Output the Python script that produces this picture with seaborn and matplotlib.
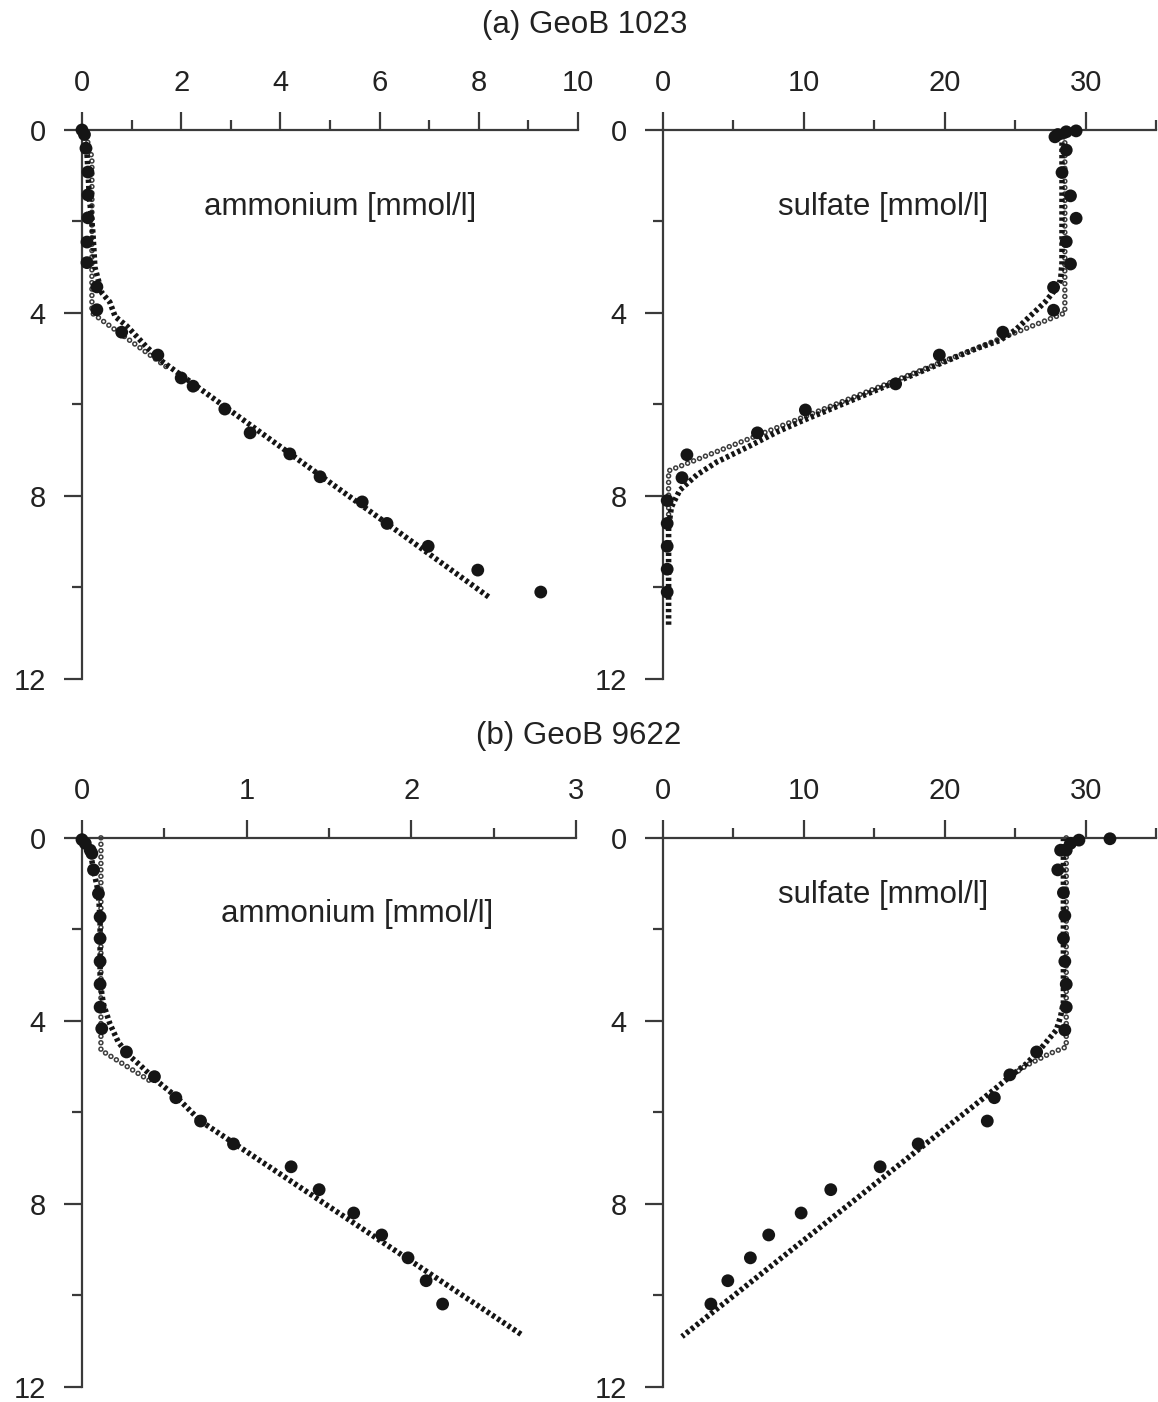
import numpy as np
import matplotlib
matplotlib.use("Agg")
import matplotlib.pyplot as plt
from matplotlib.ticker import MultipleLocator
import seaborn as sns

# ---------------------------------------------------------------
# data (depth in m, concentration in mmol/l)
# ---------------------------------------------------------------
# (a) GeoB 1023 - ammonium
a_nh4_meas_c = [0.0, 0.05, 0.08, 0.12, 0.12, 0.12, 0.1, 0.1, 0.3, 0.3, 0.8, 1.53, 2.0, 2.24,
                2.88, 3.39, 4.19, 4.8, 5.65, 6.15, 6.98, 7.98, 9.25]
a_nh4_meas_d = [0.0, 0.1, 0.4, 0.92, 1.42, 1.92, 2.45, 2.9, 3.43, 3.93, 4.42, 4.92, 5.42, 5.6,
                6.1, 6.62, 7.08, 7.58, 8.13, 8.6, 9.1, 9.62, 10.1]
a_nh4_mod_c = [0.02, 0.1, 0.15, 0.2, 0.22, 0.26, 0.4, 0.56, 0.67, 0.9, 1.3, 1.63, 8.23]
a_nh4_mod_d = [0.0, 0.5, 1.5, 2.0, 2.25, 3.0, 3.56, 3.76, 4.08, 4.28, 4.74, 5.07, 10.23]
a_nh4_step_c = [0.05, 0.2, 0.2, 1.73]
a_nh4_step_d = [0.0, 0.6, 4.0, 5.2]

# (a) GeoB 1023 - sulfate
a_so4_meas_c = [28.0, 28.6, 29.3, 27.8, 28.6, 28.3, 28.9, 29.3, 28.6, 28.9, 27.7, 27.7, 24.1,
                19.6, 16.5, 10.1, 6.7, 1.7, 1.35, 0.3, 0.3, 0.3, 0.3, 0.3]
a_so4_meas_d = [0.1, 0.04, 0.02, 0.15, 0.44, 0.93, 1.44, 1.93, 2.44, 2.93, 3.44, 3.94, 4.42,
                4.92, 5.55, 6.12, 6.62, 7.1, 7.6, 8.1, 8.6, 9.1, 9.6, 10.1]
a_so4_mod_c = [28.3, 28.3, 28.2, 27.8, 27.1, 26.0, 25.0, 23.9, 22.3, 9.7, 8.1, 6.0, 3.8, 2.4,
               1.2, 0.6, 0.4, 0.4]
a_so4_mod_d = [0.0, 2.9, 3.28, 3.5, 3.76, 4.08, 4.37, 4.6, 4.77, 6.38, 6.6, 6.93, 7.26, 7.54,
               7.87, 8.24, 8.68, 10.86]
a_so4_step_c = [28.5, 28.5, 0.4, 0.4]
a_so4_step_d = [0.0, 4.0, 7.45, 8.6]

# (b) GeoB 9622 - ammonium
b_nh4_meas_c = [0.0, 0.02, 0.05, 0.06, 0.07, 0.1, 0.11, 0.11, 0.11, 0.11, 0.11, 0.12, 0.27,
                0.44, 0.57, 0.72, 0.92, 1.27, 1.44, 1.65, 1.82, 1.98, 2.09, 2.19]
b_nh4_meas_d = [0.04, 0.12, 0.27, 0.34, 0.7, 1.22, 1.73, 2.2, 2.7, 3.2, 3.7, 4.17, 4.68,
                5.22, 5.68, 6.19, 6.69, 7.19, 7.69, 8.2, 8.68, 9.18, 9.68, 10.19]
b_nh4_mod_c = [0.0, 0.05, 0.07, 0.1, 0.11, 0.11, 0.12, 0.13, 0.17, 0.22, 0.28, 0.35, 0.45,
               0.57, 0.72, 2.67]
b_nh4_mod_d = [0.0, 0.3, 0.7, 1.2, 1.8, 3.0, 3.4, 3.63, 4.07, 4.46, 4.74, 4.96, 5.3,
               5.65, 6.19, 10.86]
b_nh4_step_c = [0.115, 0.115, 0.43]
b_nh4_step_d = [0.0, 4.64, 5.35]

# (b) GeoB 9622 - sulfate
b_so4_meas_c = [31.7, 29.5, 28.9, 28.6, 28.2, 28.0, 28.4, 28.5, 28.4, 28.5, 28.6, 28.6, 28.5,
                26.5, 24.6, 23.5, 23.0, 18.1, 15.4, 11.9, 9.8, 7.5, 6.2, 4.6, 3.4]
b_so4_meas_d = [0.02, 0.05, 0.12, 0.27, 0.27, 0.7, 1.2, 1.7, 2.2, 2.7, 3.2, 3.7, 4.2,
                4.68, 5.18, 5.68, 6.19, 6.69, 7.19, 7.69, 8.2, 8.68, 9.18, 9.68, 10.19]
b_so4_mod_c = [28.4, 28.4, 28.2, 27.9, 27.3, 26.7, 25.8, 24.6, 23.3, 1.35]
b_so4_mod_d = [0.0, 3.6, 3.9, 4.2, 4.42, 4.64, 4.93, 5.22, 5.55, 10.9]
b_so4_step_c = [28.6, 28.6, 27.4, 25.8, 24.6]
b_so4_step_d = [0.0, 4.57, 4.72, 4.97, 5.22]

# ---------------------------------------------------------------
sns.set_style("ticks")
plt.rcParams["font.family"] = ["Liberation Sans", "DejaVu Sans"]
plt.rcParams["lines.scale_dashes"] = False

INK = "#151515"
AXC = "#3a3a3a"

fig = plt.figure(figsize=(11.58, 14.02), dpi=100)


def draw_panel(ax, meas_c, meas_d, mod_c, mod_d, step_c, step_d):
    # step model: open small circles (dark ring + white core)
    sns.lineplot(x=step_c, y=step_d, sort=False, estimator=None, ax=ax, color="#3c3c3c",
                 lw=4.0, linestyle=(0, (0.01, 4.6)), dash_capstyle="round", clip_on=False)
    sns.lineplot(x=step_c, y=step_d, sort=False, estimator=None, ax=ax, color="white",
                 lw=1.8, linestyle=(0, (0.01, 4.6)), dash_capstyle="round", clip_on=False)
    # continuous model: dense dark marks
    sns.lineplot(x=mod_c, y=mod_d, sort=False, estimator=None, ax=ax, color=INK,
                 lw=4.0, linestyle=(0, (2.4, 2.1)), clip_on=False)
    # measured values
    sns.scatterplot(x=meas_c, y=meas_d, ax=ax, s=85, color=INK, edgecolor="none",
                    clip_on=False, zorder=5)


def style_axis(ax, xmax, xmaj, xmin_step, xticks):
    ax.set_xlim(0, xmax)
    ax.set_ylim(12, 0)
    ax.xaxis.set_ticks_position("top")
    ax.xaxis.set_major_locator(MultipleLocator(xmaj))
    ax.xaxis.set_minor_locator(MultipleLocator(xmin_step))
    ax.set_xticks(xticks)
    ax.yaxis.set_major_locator(MultipleLocator(4))
    ax.yaxis.set_minor_locator(MultipleLocator(2))
    for s in ["bottom", "right"]:
        ax.spines[s].set_visible(False)
    for s in ["top", "left"]:
        ax.spines[s].set_color(AXC)
        ax.spines[s].set_linewidth(1.6)
    ax.tick_params(which="major", length=13, width=1.6, color=AXC, labelsize=21,
                   labelcolor="#222222")
    ax.tick_params(which="minor", length=7, width=1.6, color=AXC)
    ax.tick_params(axis="x", which="major", pad=11)
    ax.tick_params(axis="y", which="major", pad=13)
    ax.set_xlabel("")
    ax.set_ylabel("")
    ax.patch.set_alpha(0)


# axes positions (figure fractions)
top_b, bot_b, h = 0.5157, 0.0108, 0.3916
ax1 = fig.add_axes([0.0708, top_b, 0.4283, h])
ax2 = fig.add_axes([0.5725, top_b, 0.4262, h])
ax3 = fig.add_axes([0.0708, bot_b, 0.4266, h])
ax4 = fig.add_axes([0.5725, bot_b, 0.4262, h])

draw_panel(ax1, a_nh4_meas_c, a_nh4_meas_d, a_nh4_mod_c, a_nh4_mod_d, a_nh4_step_c, a_nh4_step_d)
draw_panel(ax2, a_so4_meas_c, a_so4_meas_d, a_so4_mod_c, a_so4_mod_d, a_so4_step_c, a_so4_step_d)
draw_panel(ax3, b_nh4_meas_c, b_nh4_meas_d, b_nh4_mod_c, b_nh4_mod_d, b_nh4_step_c, b_nh4_step_d)
draw_panel(ax4, b_so4_meas_c, b_so4_meas_d, b_so4_mod_c, b_so4_mod_d, b_so4_step_c, b_so4_step_d)

style_axis(ax1, 10, 2, 1, [0, 2, 4, 6, 8, 10])
style_axis(ax2, 35, 10, 5, [0, 10, 20, 30])
style_axis(ax3, 3, 1, 0.5, [0, 1, 2, 3])
style_axis(ax4, 35, 10, 5, [0, 10, 20, 30])

lab = dict(ha="center", va="center", fontsize=22.5, color="#222222")
ax1.text(0.52, 0.86, "ammonium [mmol/l]", transform=ax1.transAxes, **lab)
ax2.text(0.446, 0.86, "sulfate [mmol/l]", transform=ax2.transAxes, **lab)
ax3.text(0.557, 0.862, "ammonium [mmol/l]", transform=ax3.transAxes, **lab)
ax4.text(0.446, 0.896, "sulfate [mmol/l]", transform=ax4.transAxes, **lab)

fig.text(0.505, 1 - 25 / 1402, "(a) GeoB 1023", **lab)
fig.text(0.500, 1 - 736 / 1402, "(b) GeoB 9622", **lab)

fig.savefig("out.png", dpi=100)
